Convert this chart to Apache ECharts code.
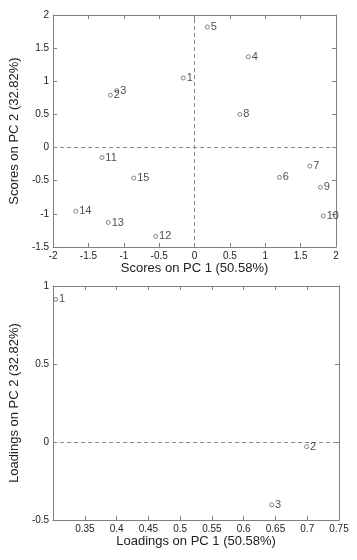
<!DOCTYPE html>
<html><head><meta charset="utf-8">
<script src="https://cdn.jsdelivr.net/npm/echarts@6/dist/echarts.min.js"></script>
<style>html,body{margin:0;padding:0;background:#fff}#c{width:357px;height:560px}</style>
</head><body><div id="c"></div>
<script>
// Scores plot (PC1 vs PC2)
const scoreNames = ['1','2','3','4','5','6','7','8','9','10','11','12','13','14','15'];
const scorePC1 = [-0.16,-1.19,-1.10,0.76,0.18,1.20,1.63,0.64,1.78,1.82,-1.31,-0.55,-1.22,-1.68,-0.86];
const scorePC2 = [1.05,0.79,0.86,1.37,1.82,-0.45,-0.28,0.50,-0.60,-1.03,-0.15,-1.34,-1.13,-0.96,-0.46];
// Loadings plot
const loadNames = ['1','2','3'];
const loadPC1 = [0.304,0.699,0.644];
const loadPC2 = [0.914,-0.03,-0.403];

const FONT = 'Liberation Sans';
const AX = '#808080';
const TXT = '#222';

function mkData(xs, ys, ns){ return xs.map((x,i)=>[x, ys[i], ns[i]]); }

function xAxes(grid, min, max, interval, name, hideMin, nameGap){
  return [
    {gridIndex:grid, type:'value', min, max, interval, position:'bottom',
     name, nameLocation:'middle', nameGap,
     nameTextStyle:{fontFamily:FONT, fontSize:13, color:TXT},
     axisLine:{onZero:false, lineStyle:{color:AX, width:1}},
     axisTick:{inside:true, length:4, lineStyle:{color:AX}},
     axisLabel:{fontFamily:FONT, fontSize:10, color:TXT, margin:4, showMinLabel:!hideMin, showMaxLabel:true},
     splitLine:{show:false}},
    {gridIndex:grid, type:'value', min, max, interval, position:'top',
     axisLine:{onZero:false, lineStyle:{color:AX, width:1}},
     axisTick:{inside:true, length:4, lineStyle:{color:AX}},
     axisLabel:{show:false}, splitLine:{show:false}}
  ];
}
function yAxes(grid, min, max, interval, name, nameGap){
  return [
    {gridIndex:grid, type:'value', min, max, interval, position:'left',
     name, nameLocation:'middle', nameGap,
     nameTextStyle:{fontFamily:FONT, fontSize:13, color:TXT},
     axisLine:{onZero:false, lineStyle:{color:AX, width:1}},
     axisTick:{inside:true, length:4, lineStyle:{color:AX}},
     axisLabel:{fontFamily:FONT, fontSize:10, color:TXT, margin:4, showMinLabel:true, showMaxLabel:true},
     splitLine:{show:false}},
    {gridIndex:grid, type:'value', min, max, interval, position:'right',
     axisLine:{onZero:false, lineStyle:{color:AX, width:1}},
     axisTick:{inside:true, length:4, lineStyle:{color:AX}},
     axisLabel:{show:false}, splitLine:{show:false}}
  ];
}

const dashStyle = {color:'#888', type:[4,3], width:1};
function scatter(xi, yi, data, marks){
  return {
    type:'scatter', xAxisIndex:xi, yAxisIndex:yi, data,
    symbol:'circle', symbolSize:4,
    itemStyle:{color:'#fff', borderColor:'#444', borderWidth:0.8},
    label:{show:true, position:'right', distance:1, formatter:p=>p.data[2],
           fontFamily:FONT, fontSize:11, color:TXT},
    markLine:{silent:true, symbol:'none', label:{show:false}, lineStyle:dashStyle,
              animation:false, data:marks},
    z:5
  };
}

const chart = echarts.init(document.getElementById('c'), null, {renderer:'canvas'});
chart.setOption({
  animation:false,
  backgroundColor:'#fff',
  grid:[
    {left:43, top:15, width:293, height:232},
    {left:45, top:286, width:294, height:234}
  ],
  xAxis:[
    ...xAxes(0, -2, 2, 0.5, 'Scores on PC 1 (50.58%)', false, 15),
    ...xAxes(1, 0.3, 0.75, 0.05, 'Loadings on PC 1 (50.58%)', true, 15)
  ],
  yAxis:[
    ...yAxes(0, -1.5, 2, 0.5, 'Scores on PC 2 (32.82%)', 19),
    ...yAxes(1, -0.5, 1, 0.5, 'Loadings on PC 2 (32.82%)', 21)
  ],
  series:[
    scatter(0, 0, mkData(scorePC1, scorePC2, scoreNames), [{xAxis:0},{yAxis:0}]),
    scatter(2, 2, mkData(loadPC1, loadPC2, loadNames), [{yAxis:0}])
  ]
});
</script></body></html>
